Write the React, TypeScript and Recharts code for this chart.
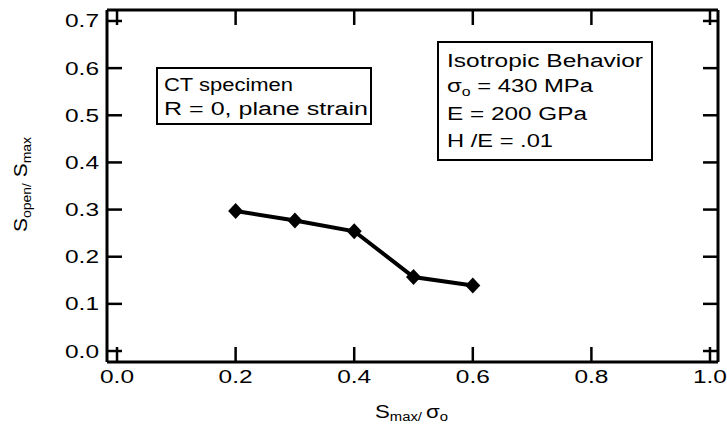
import React from "react";
import { LineChart, Line, XAxis, YAxis } from "recharts";

// S_max / sigma_o
const stressRatio = [0.2, 0.3, 0.4, 0.5, 0.6];
// S_open / S_max
const openingRatio = [0.297, 0.277, 0.254, 0.157, 0.139];

const xTicks = [0, 0.2, 0.4, 0.6, 0.8, 1.0];
const yTicks = [0, 0.1, 0.2, 0.3, 0.4, 0.5, 0.6, 0.7];

const data = stressRatio.map((x, i) => ({ x, y: openingRatio[i] }));

const FONT = "'Liberation Sans', Arial, Helvetica, sans-serif";
const X_DOMAIN: [number, number] = [-0.0169, 1.0135];
const Y_DOMAIN: [number, number] = [-0.0233, 0.7233];

// plot frame (px) and inward tick length
const PLOT_LEFT = 107;
const PLOT_RIGHT = 718;
const PLOT_TOP = 10;
const PLOT_BOTTOM = 362;
const TICK = 15;

const Diamond = (props: any) => {
  const { cx, cy } = props;
  if (cx == null || cy == null) return null;
  return (
    <polygon
      points={`${cx},${cy - 8} ${cx + 7.5},${cy} ${cx},${cy + 8} ${cx - 7.5},${cy}`}
      fill="#000"
    />
  );
};

const LeftTick = (props: any) => {
  const { y, payload } = props;
  return (
    <g>
      <line x1={PLOT_LEFT} x2={PLOT_LEFT + TICK} y1={y} y2={y} stroke="#000" strokeWidth={2.5} />
      <text
        x={65}
        y={y + 6.5}
        fontFamily={FONT}
        fontSize={18}
        fill="#000"
        textLength={34}
        lengthAdjust="spacingAndGlyphs"
      >
        {payload.value.toFixed(1)}
      </text>
    </g>
  );
};

const BottomTick = (props: any) => {
  const { x, payload } = props;
  return (
    <g>
      <line x1={x} x2={x} y1={PLOT_BOTTOM} y2={PLOT_BOTTOM - TICK} stroke="#000" strokeWidth={2.5} />
      <text
        x={x - 17}
        y={383}
        fontFamily={FONT}
        fontSize={18}
        fill="#000"
        textLength={34}
        lengthAdjust="spacingAndGlyphs"
      >
        {payload.value.toFixed(1)}
      </text>
    </g>
  );
};

const TopTick = (props: any) => (
  <line x1={props.x} x2={props.x} y1={PLOT_TOP} y2={PLOT_TOP + TICK} stroke="#000" strokeWidth={2.5} />
);

const RightTick = (props: any) => (
  <line x1={PLOT_RIGHT} x2={PLOT_RIGHT - TICK} y1={props.y} y2={props.y} stroke="#000" strokeWidth={2.5} />
);

const axisLine = { stroke: "#000", strokeWidth: 3 };

export default function App() {
  return (
    <div style={{ position: "absolute", left: 0, top: 0, width: 727, height: 444, background: "#fff" }}>
      <LineChart
        width={727}
        height={444}
        data={data}
        margin={{ top: PLOT_TOP, right: 727 - PLOT_RIGHT, left: 0, bottom: 0 }}
      >
        <XAxis
          xAxisId="bottom"
          type="number"
          dataKey="x"
          domain={X_DOMAIN}
          allowDataOverflow
          ticks={xTicks}
          height={444 - PLOT_BOTTOM}
          axisLine={axisLine}
          tickLine={false}
          tick={<BottomTick />}
        />
        <YAxis
          yAxisId="left"
          type="number"
          domain={Y_DOMAIN}
          allowDataOverflow
          ticks={yTicks}
          width={PLOT_LEFT}
          axisLine={axisLine}
          tickLine={false}
          tick={<LeftTick />}
        />
        <XAxis
          xAxisId="top"
          orientation="top"
          type="number"
          dataKey="x"
          domain={X_DOMAIN}
          allowDataOverflow
          ticks={xTicks}
          mirror
          axisLine={axisLine}
          tickLine={false}
          tick={<TopTick />}
        />
        <YAxis
          yAxisId="right"
          orientation="right"
          type="number"
          domain={Y_DOMAIN}
          allowDataOverflow
          ticks={yTicks}
          mirror
          axisLine={axisLine}
          tickLine={false}
          tick={<RightTick />}
        />
        <Line
          xAxisId="bottom"
          yAxisId="left"
          dataKey="y"
          stroke="#000"
          strokeWidth={4}
          dot={<Diamond />}
          activeDot={false}
          isAnimationActive={false}
        />
      </LineChart>

      <svg
        width={727}
        height={444}
        style={{ position: "absolute", left: 0, top: 0, pointerEvents: "none" }}
        fontFamily={FONT}
        fill="#000"
      >
        {/* axis titles */}
        <text transform="translate(27,232) rotate(-90)" fontSize={18} textLength={95} lengthAdjust="spacingAndGlyphs">
          <tspan>S</tspan>
          <tspan fontSize={12} dy={4}>open/</tspan>
          <tspan dy={-4}> S</tspan>
          <tspan fontSize={12} dy={4}>max</tspan>
        </text>
        <text x={375} y={418} fontSize={18} textLength={73} lengthAdjust="spacingAndGlyphs">
          <tspan>S</tspan>
          <tspan fontSize={12} dy={3}>max/ </tspan>
          <tspan dy={-3}>σ</tspan>
          <tspan fontSize={12} dy={3}>o</tspan>
        </text>

        {/* specimen box */}
        <rect x={157} y={68} width={214} height={56} fill="#fff" stroke="#000" strokeWidth={2} />
        <text x={164} y={91} fontSize={18} textLength={129} lengthAdjust="spacingAndGlyphs">CT specimen</text>
        <text x={164} y={115} fontSize={18} textLength={204} lengthAdjust="spacingAndGlyphs">R = 0, plane strain</text>

        {/* material box */}
        <rect x={438} y={42} width={214} height={118} fill="#fff" stroke="#000" strokeWidth={2} />
        <text x={447} y={67} fontSize={18} textLength={196} lengthAdjust="spacingAndGlyphs">Isotropic Behavior</text>
        <text x={447} y={92} fontSize={18} textLength={146} lengthAdjust="spacingAndGlyphs">
          <tspan>σ</tspan>
          <tspan fontSize={12} dy={4}>o</tspan>
          <tspan dy={-4}> = 430 MPa</tspan>
        </text>
        <text x={447} y={120} fontSize={18} textLength={140} lengthAdjust="spacingAndGlyphs">E = 200 GPa</text>
        <text x={447} y={147} fontSize={18} textLength={106} lengthAdjust="spacingAndGlyphs">H /E = .01</text>
      </svg>
    </div>
  );
}
